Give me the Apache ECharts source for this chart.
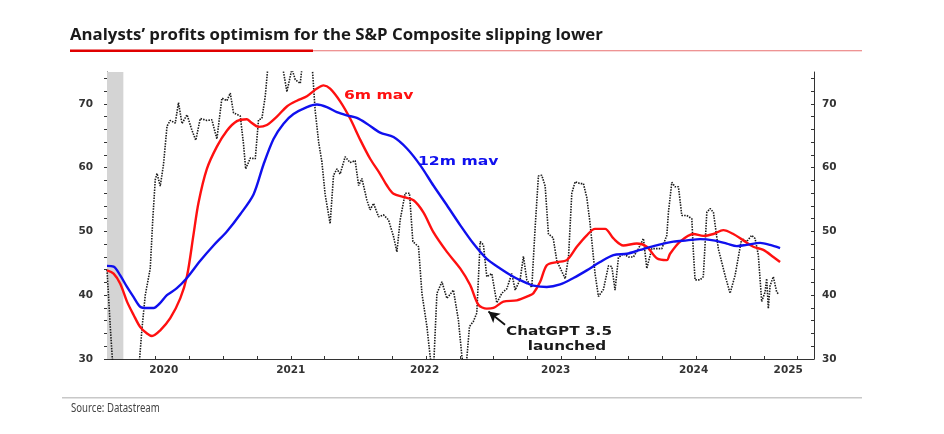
<!DOCTYPE html>
<html>
<head>
<meta charset="utf-8">
<script src="https://cdn.jsdelivr.net/npm/echarts@6/dist/echarts.min.js"></script>
<style>html,body{margin:0;padding:0;background:#fff;}#chart{width:944px;height:434px;}</style>
</head>
<body>
<div id="chart"></div>
<script>
// ---- Data (x = decimal year) ----
const rawOptimism = [
  [2019.640,44.0],[2019.665,34.8],[2019.689,27],[2019.78,22],[2019.881,30.0],[2019.899,34.8],[2019.923,40.0],
  [2019.960,44.2],[2019.979,52.0],[2019.997,58.1],[2020.010,59.1],[2020.034,57.1],[2020.058,60.5],[2020.084,66.5],
  [2020.108,67.4],[2020.145,67.0],[2020.169,70.2],[2020.195,66.9],[2020.232,68.3],[2020.268,65.9],[2020.297,64.3],
  [2020.330,67.7],[2020.379,67.4],[2020.416,67.5],[2020.453,64.5],[2020.490,70.9],[2020.527,70.5],[2020.552,71.7],
  [2020.576,68.6],[2020.626,68.1],[2020.650,63.7],[2020.666,59.8],[2020.700,61.5],[2020.737,61.4],[2020.761,67.5],
  [2020.786,67.7],[2020.811,71.2],[2020.829,75.5],[2020.855,78],[2020.907,77],[2020.946,75],[2020.971,71.9],
  [2021.008,75.5],[2021.033,73.8],[2021.070,73.2],[2021.084,76],[2021.121,78],[2021.158,76],[2021.180,69.0],
  [2021.206,64.0],[2021.230,60.9],[2021.254,55.8],[2021.291,51.2],[2021.316,58.8],[2021.341,59.8],[2021.365,59.0],
  [2021.402,61.7],[2021.439,60.8],[2021.476,61.1],[2021.502,57.2],[2021.526,58.3],[2021.563,54.9],[2021.587,53.4],
  [2021.612,54.4],[2021.649,52.3],[2021.686,52.6],[2021.723,51.8],[2021.760,49.2],[2021.785,46.8],[2021.809,51.8],
  [2021.846,56.0],[2021.878,56.0],[2021.903,48.4],[2021.945,47.6],[2021.970,40.3],[2022.007,35.1],[2022.031,30.4],
  [2022.053,27],[2022.081,40.3],[2022.118,42.1],[2022.155,39.5],[2022.203,40.8],[2022.240,36.1],[2022.266,30.4],
  [2022.290,27],[2022.322,35.1],[2022.351,35.9],[2022.376,37.2],[2022.401,48.4],[2022.425,47.9],[2022.450,42.9],
  [2022.487,43.4],[2022.524,38.8],[2022.561,40.3],[2022.598,41.0],[2022.635,43.4],[2022.660,40.8],[2022.697,42.5],
  [2022.721,46.1],[2022.746,42.4],[2022.783,41.2],[2022.808,50.7],[2022.832,58.7],[2022.857,58.8],[2022.882,57.1],
  [2022.906,49.6],[2022.941,49.0],[2022.968,45.4],[2023.030,42.6],[2023.055,46.1],[2023.079,56.0],[2023.104,57.8],
  [2023.141,57.5],[2023.165,57.5],[2023.190,55.3],[2023.214,51.3],[2023.251,43.4],[2023.276,39.8],[2023.288,39.5],
  [2023.313,40.9],[2023.350,44.6],[2023.375,44.5],[2023.399,40.8],[2023.424,45.9],[2023.461,46.5],[2023.498,46.0],
  [2023.535,46.0],[2023.572,47.3],[2023.609,48.9],[2023.634,44.2],[2023.671,47.3],[2023.708,47.3],[2023.745,47.3],
  [2023.782,49.4],[2023.794,53.0],[2023.819,57.7],[2023.843,57.0],[2023.868,57.0],[2023.893,52.5],[2023.930,52.5],
  [2023.967,52.0],[2023.978,47.0],[2023.991,42.4],[2024.028,42.4],[2024.052,42.9],[2024.078,53.0],[2024.102,53.6],
  [2024.127,53.0],[2024.163,47.3],[2024.213,43.1],[2024.250,40.3],[2024.287,43.1],[2024.336,48.9],[2024.373,48.4],
  [2024.410,49.4],[2024.435,48.9],[2024.459,46.3],[2024.484,39.0],[2024.509,40.5],[2024.521,42.6],[2024.533,37.9],
  [2024.546,41.5],[2024.570,42.9],[2024.595,40.5],[2024.607,40.2]
];
const mav6m = [
  [2019.640,43.9],[2019.689,43.4],[2019.738,41.8],[2019.788,39.0],[2019.837,36.9],[2019.886,35.0],[2019.936,34.0],
  [2019.973,33.6],[2020.034,34.5],[2020.108,36.4],[2020.182,39.5],[2020.232,43.0],[2020.280,49.5],[2020.317,54.5],
  [2020.379,59.8],[2020.453,63.3],[2020.527,65.8],[2020.601,67.3],[2020.675,67.6],[2020.700,67.2],[2020.761,66.4],
  [2020.823,66.7],[2020.897,68.0],[2020.971,69.6],[2021.045,70.5],[2021.119,71.2],[2021.193,72.4],[2021.242,72.9],
  [2021.291,72.4],[2021.365,70.4],[2021.439,67.7],[2021.513,64.4],[2021.587,61.4],[2021.661,59.0],[2021.711,57.2],
  [2021.760,55.9],[2021.834,55.4],[2021.908,54.9],[2021.981,53.0],[2022.055,49.9],[2022.155,46.8],[2022.253,44.2],
  [2022.327,41.6],[2022.388,38.5],[2022.450,37.9],[2022.499,38.0],[2022.573,39.0],[2022.672,39.2],[2022.771,40.0],
  [2022.795,40.3],[2022.845,42.1],[2022.894,44.7],[2022.968,45.2],[2023.042,45.5],[2023.116,47.6],[2023.190,49.4],
  [2023.251,50.4],[2023.325,50.4],[2023.387,48.9],[2023.461,47.8],[2023.560,48.1],[2023.634,47.6],[2023.708,45.8],
  [2023.782,45.5],[2023.806,46.5],[2023.880,48.4],[2023.979,49.6],[2024.052,49.3],[2024.127,49.6],[2024.200,50.2],
  [2024.274,49.6],[2024.348,48.6],[2024.422,47.6],[2024.496,47.1],[2024.570,46.0],[2024.620,45.2]
];
const mav12m = [
  [2019.640,44.6],[2019.689,44.5],[2019.738,43.1],[2019.788,41.3],[2019.837,39.7],[2019.886,38.2],[2019.936,38.0],
  [2019.985,38.0],[2020.034,38.8],[2020.083,40.0],[2020.157,41.1],[2020.231,42.7],[2020.330,45.4],[2020.428,47.8],
  [2020.527,50.0],[2020.626,52.7],[2020.724,55.8],[2020.798,60.5],[2020.872,64.5],[2020.946,66.9],[2021.020,68.4],
  [2021.119,69.5],[2021.193,69.9],[2021.267,69.5],[2021.341,68.7],[2021.415,68.2],[2021.489,67.8],[2021.563,66.9],
  [2021.661,65.5],[2021.760,64.8],[2021.859,63.0],[2021.957,60.4],[2022.055,57.2],[2022.155,54.1],[2022.253,51.0],
  [2022.351,48.1],[2022.450,45.7],[2022.549,44.2],[2022.647,42.9],[2022.746,41.9],[2022.795,41.5],[2022.894,41.3],
  [2022.993,41.7],[2023.091,42.7],[2023.190,43.9],[2023.288,45.2],[2023.387,46.3],[2023.486,46.5],[2023.584,47.1],
  [2023.683,47.7],[2023.782,48.2],[2023.831,48.4],[2023.930,48.6],[2024.028,48.8],[2024.127,48.6],[2024.226,48.1],
  [2024.300,47.7],[2024.373,47.9],[2024.472,48.2],[2024.546,47.9],[2024.620,47.4]
];
const shadedBand = [2019.640, 2019.761];
const xTickValues = [2019.75,2020,2020.25,2020.5,2020.75,2021,2021.25,2021.5,2021.75,2022,2022.25,2022.5,2022.75,
  2023,2023.25,2023.5,2023.75,2024,2024.25,2024.5,2024.75];
const xLabelValues = [2020.06, 2021.0, 2021.99, 2022.96, 2023.98, 2024.68];
const yLabelValues = [30, 40, 50, 60, 70];
const yTickValues = [30,32,34,36,38,40,42,44,46,48,50,52,54,56,58,60,62,64,66,68,70,72,74];
const arrowFrom = [2022.585, 35.37];
const arrowTo = [2022.462, 37.45];

const chart = echarts.init(document.getElementById('chart'), null, {renderer: 'canvas'});
const axisLabelStyle = {color: '#333', fontFamily: 'DejaVu Sans', fontWeight: 'bold', fontSize: 10.5};
const yAxisCommon = {
  type: 'value', min: 30, max: 75,
  axisLine: {show: true, lineStyle: {color: '#333', width: 1}},
  splitLine: {show: false},
  axisTick: {show: true, customValues: yTickValues, length: 3, lineStyle: {color: '#333'}},
  axisLabel: Object.assign({customValues: yLabelValues}, axisLabelStyle)
};
chart.setOption({
  animation: false,
  backgroundColor: '#fff',
  grid: {left: 107, right: 130, top: 72, bottom: 75},
  xAxis: {
    type: 'value', min: 2019.640, max: 2024.871,
    axisLine: {show: true, onZero: false, lineStyle: {color: '#333', width: 1}},
    splitLine: {show: false},
    axisTick: {show: true, inside: true, customValues: xTickValues, length: 3, lineStyle: {color: '#333'}},
    axisLabel: Object.assign({customValues: xLabelValues, margin: 6, formatter: v => String(Math.round(v))}, axisLabelStyle)
  },
  yAxis: [
    Object.assign({}, yAxisCommon, {position: 'left', axisTick: Object.assign({}, yAxisCommon.axisTick, {inside: false}),
      axisLabel: Object.assign({}, yAxisCommon.axisLabel, {margin: 14})}),
    Object.assign({}, yAxisCommon, {position: 'right', axisTick: Object.assign({}, yAxisCommon.axisTick, {inside: true}),
      axisLabel: Object.assign({}, yAxisCommon.axisLabel, {margin: 8})})
  ],
  series: [
    {
      name: 'Optimism', type: 'line', data: rawOptimism, showSymbol: false, symbol: 'none',
      lineStyle: {color: '#1a1a1a', width: 1.6, type: [1.5, 1.2]}, z: 2,
      markArea: {silent: true, itemStyle: {color: '#d4d4d4'}, data: [[{xAxis: shadedBand[0]}, {xAxis: shadedBand[1]}]]}
    },
    {
      name: '6m mav', type: 'line', data: mav6m, showSymbol: false, symbol: 'none', smooth: 0.3,
      lineStyle: {color: '#ff1010', width: 2.4}, z: 3,
      markLine: {silent: true, symbol: ['none', 'arrow'], symbolSize: [9, 11], label: {show: false},
        lineStyle: {color: '#111', width: 1.8, type: 'solid'},
        data: [[{coord: arrowFrom}, {coord: arrowTo}]]}
    },
    {
      name: '12m mav', type: 'line', data: mav12m, showSymbol: false, symbol: 'none', smooth: 0.3,
      lineStyle: {color: '#1010ee', width: 2.4}, z: 4
    }
  ],
  graphic: [
    {type: 'text', left: 70, top: 27, style: {text: 'Analysts’ profits optimism for the S&P Composite slipping lower',
      fill: '#1a1a1a', font: 'bold 16.8px "Open Sans"'}},
    {type: 'rect', shape: {x: 70, y: 49.5, width: 243, height: 2.6}, style: {fill: '#e00000'}},
    {type: 'rect', shape: {x: 313, y: 50.2, width: 549, height: 1}, style: {fill: '#e87070'}},
    {type: 'rect', shape: {x: 62, y: 397, width: 800, height: 1.5}, style: {fill: '#c8c8c8'}},
    {type: 'text', x: 71, y: 409, scaleX: 0.8, style: {text: 'Source: Datastream', fill: '#444', font: '12px "Noto Sans"', verticalAlign: 'middle'}},
    {type: 'text', x: 344, y: 96, scaleX: 1.3, style: {text: '6m mav', fill: '#ff1010', font: 'bold 12px "DejaVu Sans"', verticalAlign: 'middle'}},
    {type: 'text', x: 418, y: 162, scaleX: 1.3, style: {text: '12m mav', fill: '#1010ee', font: 'bold 12px "DejaVu Sans"', verticalAlign: 'middle'}},
    {type: 'text', x: 559, y: 332, scaleX: 1.22, style: {text: 'ChatGPT 3.5', fill: '#1a1a1a', font: 'bold 12.5px "DejaVu Sans"', align: 'center', verticalAlign: 'middle'}},
    {type: 'text', x: 567, y: 347, scaleX: 1.22, style: {text: 'launched', fill: '#1a1a1a', font: 'bold 12.5px "DejaVu Sans"', align: 'center', verticalAlign: 'middle'}}
  ]
});
</script>
</body>
</html>
